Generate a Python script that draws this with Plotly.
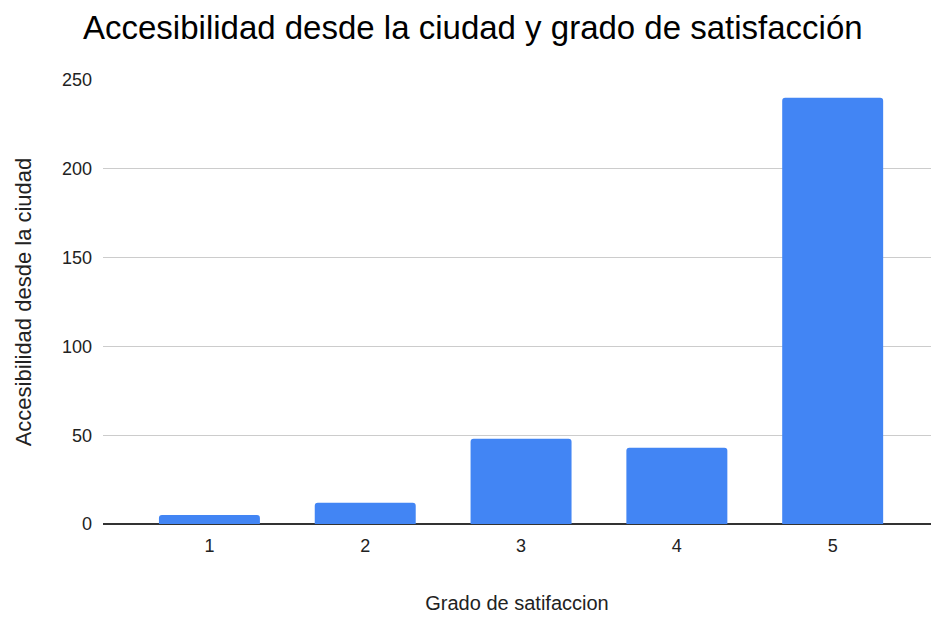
import plotly.graph_objects as go

categories = ["1", "2", "3", "4", "5"]
x_values = [1, 2, 3, 4, 5]
counts = [5, 12, 48, 43, 240]
y_ticks = [0, 50, 100, 150, 200, 250]

FONT = "Liberation Sans, Arial, sans-serif"

fig = go.Figure(
    go.Bar(
        x=x_values,
        y=counts,
        marker=dict(color="#4285F4", line=dict(width=0)),
        width=0.648,
        hoverinfo="x+y",
    )
)

fig.update_layout(
    width=931,
    height=617,
    paper_bgcolor="white",
    plot_bgcolor="white",
    margin=dict(l=103, r=0, t=79.5, b=93.3),
    barcornerradius=3,
    showlegend=False,
    font=dict(family=FONT, color="#222222"),
    title=dict(
        text="Accesibilidad desde la ciudad y grado de satisfacción",
        x=83 / 931,
        xanchor="left",
        xref="container",
        y=1 - 27 / 617,
        yanchor="middle",
        yref="container",
        font=dict(family=FONT, size=33, color="#000000"),
    ),
    xaxis=dict(
        range=[0.317, 5.631],
        tickmode="array",
        tickvals=x_values,
        ticktext=categories,
        showgrid=False,
        zeroline=False,
        showline=False,
        ticks="",
        tickfont=dict(size=18, color="#222222"),
        ticklabelstandoff=9,
        title=dict(text="Grado de satifaccion", font=dict(size=20, color="#222222"), standoff=40),
    ),
    yaxis=dict(
        range=[0, 250],
        tickmode="array",
        tickvals=y_ticks,
        ticktext=[str(v) for v in y_ticks],
        showgrid=True,
        gridcolor="#cccccc",
        gridwidth=1,
        zeroline=True,
        zerolinecolor="#333333",
        zerolinewidth=1.5,
        showline=False,
        ticks="",
        tickfont=dict(size=18, color="#222222"),
        ticklabelstandoff=10,
        title=dict(text="Accesibilidad desde la ciudad", font=dict(size=22, color="#222222"), standoff=24),
    ),
)

fig.write_html(
    "out.html",
    config={"displayModeBar": False},
    post_script="document.body.style.margin='0';document.body.style.overflow='hidden';",
)
